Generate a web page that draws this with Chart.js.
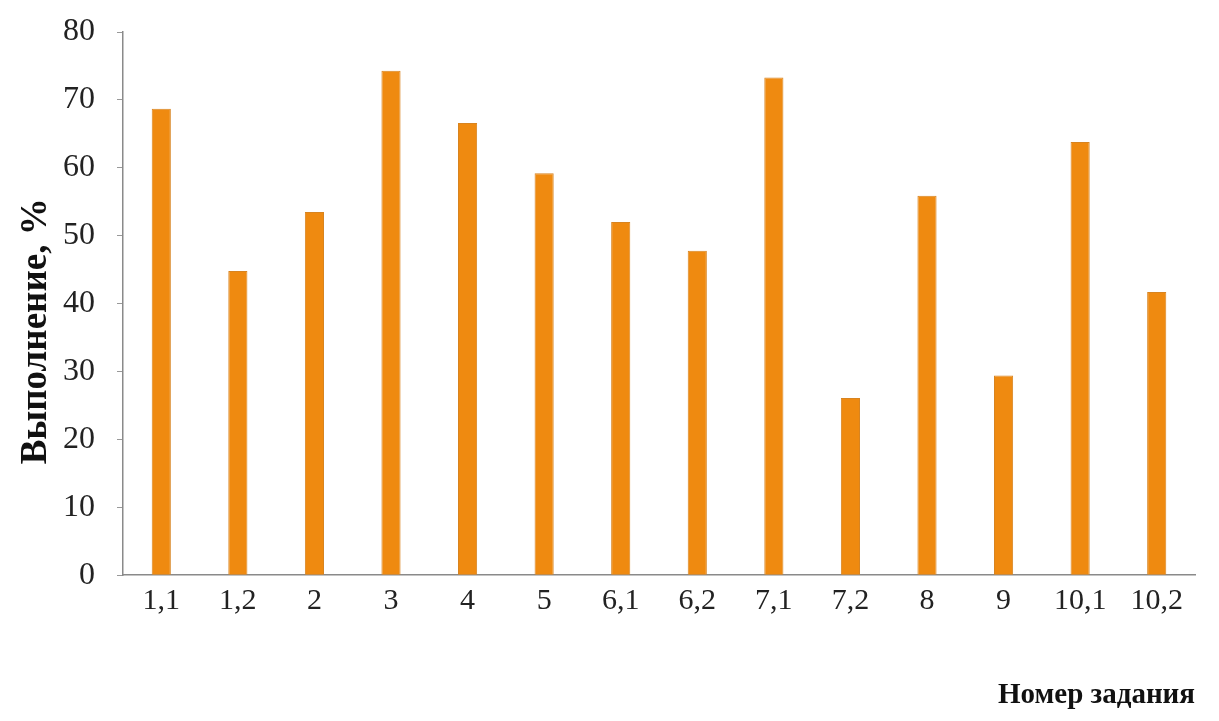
<!DOCTYPE html>
<html>
<head>
<meta charset="utf-8">
<script src="https://cdn.jsdelivr.net/npm/chart.js@4"></script>
<style>
  html, body { margin: 0; padding: 0; background: #fff; }
  #wrap { width: 1219px; height: 721px; }
</style>
</head>
<body>
<div id="wrap"><canvas id="barGraph" width="1219" height="721"></canvas></div>
<script>
// task numbers and completion percentages
var tasks = ['1,1', '1,2', '2', '3', '4', '5', '6,1', '6,2', '7,1', '7,2', '8', '9', '10,1', '10,2'];
var completion = [68.7, 44.8, 53.5, 74.3, 66.6, 59.2, 52.0, 47.8, 73.3, 26.1, 55.9, 29.4, 63.8, 41.7];
var yTicks = [0, 10, 20, 30, 40, 50, 60, 70, 80];

var serif = "'Liberation Serif', 'DejaVu Serif', serif";

var ctx = document.getElementById('barGraph').getContext('2d');
new Chart(ctx, {
    type: 'bar',
    data: {
        labels: tasks,
        datasets: [{
            label: 'Выполнение',
            data: completion,
            backgroundColor: '#EF8A10',
            borderColor: '#D88420',
            borderWidth: 1,
            barPercentage: 0.5,
            categoryPercentage: 0.5
        }]
    },
    options: {
        responsive: false,
        animation: false,
        layout: { padding: { top: 32, right: 24, bottom: 8, left: 14 } },
        plugins: {
            legend: { display: false },
            tooltip: { enabled: false }
        },
        scales: {
            x: {
                grid: { display: true, drawOnChartArea: false, drawTicks: false },
                border: { display: true, color: '#8a8a8a', width: 1.5 },
                ticks: {
                    color: '#222',
                    padding: 8,
                    maxRotation: 0,
                    autoSkip: false,
                    font: { family: serif, size: 30 }
                },
                title: {
                    display: true,
                    text: 'Номер задания',
                    align: 'end',
                    color: '#111',
                    padding: { top: 51, bottom: 0 },
                    font: { family: serif, size: 29, weight: 'bold' }
                }
            },
            y: {
                min: 0,
                max: 80,
                afterBuildTicks: function (axis) {
                    axis.ticks = yTicks.map(v => ({ value: v }));
                },
                afterFit: function (axis) {
                    axis.width = 109;
                    axis.paddingTop = 0;
                    axis.paddingBottom = 0;
                },
                grid: { drawOnChartArea: false, drawTicks: true, tickLength: 6, color: '#999' },
                border: { display: true, color: '#8a8a8a', width: 1.5 },
                ticks: {
                    color: '#222',
                    padding: 22,
                    font: { family: serif, size: 32 }
                },
                title: {
                    display: true,
                    text: 'Выполнение, %\u00a0\u00a0\u00a0\u00a0\u00a0\u00a0',
                    color: '#111',
                    padding: { top: 0, bottom: 0 },
                    font: { family: serif, size: 37, weight: 'bold' }
                }
            }
        }
    }
});
</script>
</body>
</html>
